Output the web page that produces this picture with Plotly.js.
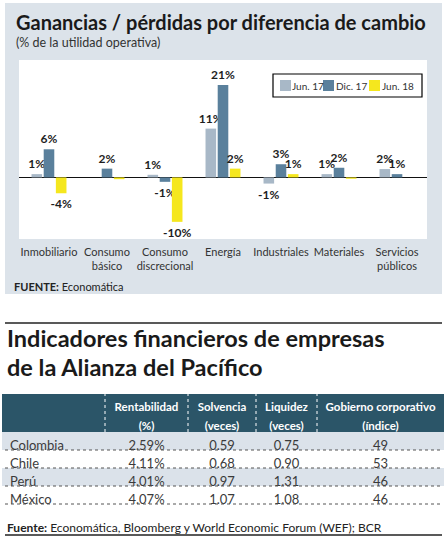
<!DOCTYPE html>
<html>
<head>
<meta charset="utf-8">
<script src="https://cdn.plot.ly/plotly-3.0.1.min.js"></script>
<style>
html,body{margin:0;padding:0;background:#fff;}
#chart{width:446px;height:539px;}
</style>
</head>
<body>
<div id="chart"></div>
<script>
// ---- Bar chart data ----
const categories = ['Inmobiliario','Consumo<br>básico','Consumo<br>discrecional','Energía','Industriales','Materiales','Servicios<br>públicos'];
const seriesNames = ['Jun. 17','Dic. 17','Jun. 18'];
const jun17 = [0.75, 0, 0.6, 11.1, -1.4, 0.75, 1.9];
const dic17 = [6.4, 2.0, -1.0, 21.0, 3.0, 2.2, 0.75];
const jun18 = [-3.6, -0.4, -10.1, 2.0, 0.75, -0.3, 0];

// ---- Table data ----
const countries = ['Colombia','Chile','Perú','México'];
const headerLine1 = ['', 'Rentabilidad', 'Solvencia', 'Liquidez', 'Gobierno\u00a0corporativo'];
const headerLine2 = ['', '(%)', '(veces)', '(veces)', '(índice)'];
const rentabilidad = [2.59, 4.11, 4.01, 4.07];
const solvencia = [0.59, 0.68, 0.97, 1.07];
const liquidez = [0.75, 0.90, 1.31, 1.08];
const gobierno = [49, 53, 46, 46];

const W = 446, H = 539;
const px = x => x / W;
const py = y => 1 - y / H;
const FONT = 'Lato, "Open Sans", sans-serif';
const colors = ['#a8b8c7', '#5a809c', '#f5e71e'];
const series = [jun17, dic17, jun18];

const labelOf = v => Math.abs(v) >= 0.5 ? Math.round(v) + '%' : '';

const traces = series.map((vals, i) => ({
  type: 'bar',
  name: seriesNames[i],
  x: categories,
  y: vals,
  text: vals.map(labelOf),
  textposition: 'outside',
  cliponaxis: false,
  constraintext: 'none',
  textfont: {family: FONT, size: 12, color: '#1e1e1e', weight: 'bold'},
  marker: {color: colors[i], line: {width: 0}},
  hoverinfo: 'skip',
  showlegend: false
}));

const rowFills = countries.map((c, r) => r % 2 === 0 ? '#dbe2ea' : '#ffffff');
traces.push({
  type: 'table',
  domain: {x: [px(2), px(444)], y: [py(511), py(394)]},
  columnwidth: [103, 83, 68, 61, 127],
  header: {
    values: headerLine1.map((h, i) => [h, headerLine2[i]]),
    align: 'center',
    height: 19,
    fill: {color: '#2b5568'},
    line: {width: 0, color: '#2b5568'},
    font: {family: FONT, size: 11.5, color: '#ffffff', weight: 'bold'}
  },
  cells: {
    values: [countries, rentabilidad, solvencia, liquidez, gobierno],
    format: ['', '.2f', '.2f', '.2f', 'd'],
    suffix: ['', '%', '', '', ''],
    align: ['left', 'center', 'center', 'center', 'center'],
    height: 18,
    fill: {color: headerLine1.map(() => rowFills)},
    line: {width: 0, color: headerLine1.map(() => rowFills)},
    font: {family: FONT, size: 13, color: '#3a3a3a'}
  }
});

const P = {xref:'paper', yref:'paper'};
const shapes = [
  {...P, type:'rect', x0:px(5), x1:px(442), y0:py(294), y1:py(3), fillcolor:'#dce3ea', line:{width:0}, layer:'below'},
  {...P, type:'rect', x0:px(19), x1:px(427), y0:py(239), y1:py(60), fillcolor:'#ffffff', line:{width:0}, layer:'below'},
  {...P, type:'rect', x0:px(273), x1:px(422), y0:py(97), y1:py(74), fillcolor:'#ffffff', line:{width:1.2, color:'#000'}, layer:'above'},
  {...P, type:'line', x0:px(5), x1:px(442), y0:py(323), y1:py(323), line:{width:1.5, color:'#222'}},
  {...P, type:'line', x0:px(5), x1:px(442), y0:py(535), y1:py(535), line:{width:1.5, color:'#222'}}
];
// legend swatches
const swX = [280, 323, 369];
const txX = [290, 334, 380];
seriesNames.forEach((n, i) => {
  shapes.push({...P, type:'rect', x0:px(swX[i]), x1:px(swX[i]+11), y0:py(91), y1:py(80), fillcolor:colors[i], line:{width:0}, layer:'above'});
});
// table dotted separators
[450, 468, 486, 504].forEach(y => shapes.push({...P, type:'line', x0:px(5), x1:px(442), y0:py(y), y1:py(y), line:{width:1, color:'#555', dash:'dot'}, layer:'above'}));
[105, 188, 256, 317].forEach(x => shapes.push({...P, type:'line', x0:px(x), x1:px(x), y0:py(432), y1:py(394), line:{width:1, color:'#ffffff', dash:'dot'}, layer:'above'}));

const A = (text, x, y, size, color, extra) => Object.assign({
  text, x: px(x), y: py(y), xref:'paper', yref:'paper', xanchor:'left', yanchor:'middle',
  showarrow:false, font:{family:FONT, size, color}
}, extra || {});
const annotations = [
  A('<b>Ganancias / pérdidas por diferencia de cambio</b>', 14, 22, 20, '#1a1a1a'),
  A('(% de la utilidad operativa)', 14, 42, 12.5, '#333'),
  A('<b>FUENTE:</b> Economática', 12, 286, 11, '#222'),
  A('<b>Indicadores financieros de empresas</b>', 5, 338, 23.5, '#1a1a1a'),
  A('<b>de la Alianza del Pacífico</b>', 5, 367, 23.5, '#1a1a1a'),
  A('<b>Fuente:</b> Economática, Bloomberg y World Economic Forum (WEF); BCR', 5, 527, 12, '#222')
];
seriesNames.forEach((n, i) => annotations.push(A(n, txX[i], 86, 10, '#333')));

const layout = {
  width: W, height: H,
  margin: {l:0, r:0, t:0, b:0},
  paper_bgcolor: '#ffffff',
  plot_bgcolor: 'rgba(0,0,0,0)',
  barmode: 'group',
  bargap: 0.37,
  bargroupgap: 0.13,
  showlegend: false,
  font: {family: FONT, color: '#333'},
  xaxis: {
    domain: [px(19), px(427)],
    range: [-0.517, 6.517],
    showgrid: false, showline: false, zeroline: false, ticks: '',
    ticklabelstandoff: 5,
    tickfont: {family: FONT, size: 11, color: '#333'},
    tickangle: 0, fixedrange: true
  },
  yaxis: {
    domain: [py(239), py(60)],
    range: [-14.0, 26.7],
    showgrid: false, showticklabels: false, ticks: '',
    zeroline: true, zerolinecolor: '#111', zerolinewidth: 1.5, fixedrange: true
  },
  shapes: shapes,
  annotations: annotations
};

Plotly.newPlot('chart', traces, layout, {displayModeBar: false, staticPlot: true});
</script>
</body>
</html>
